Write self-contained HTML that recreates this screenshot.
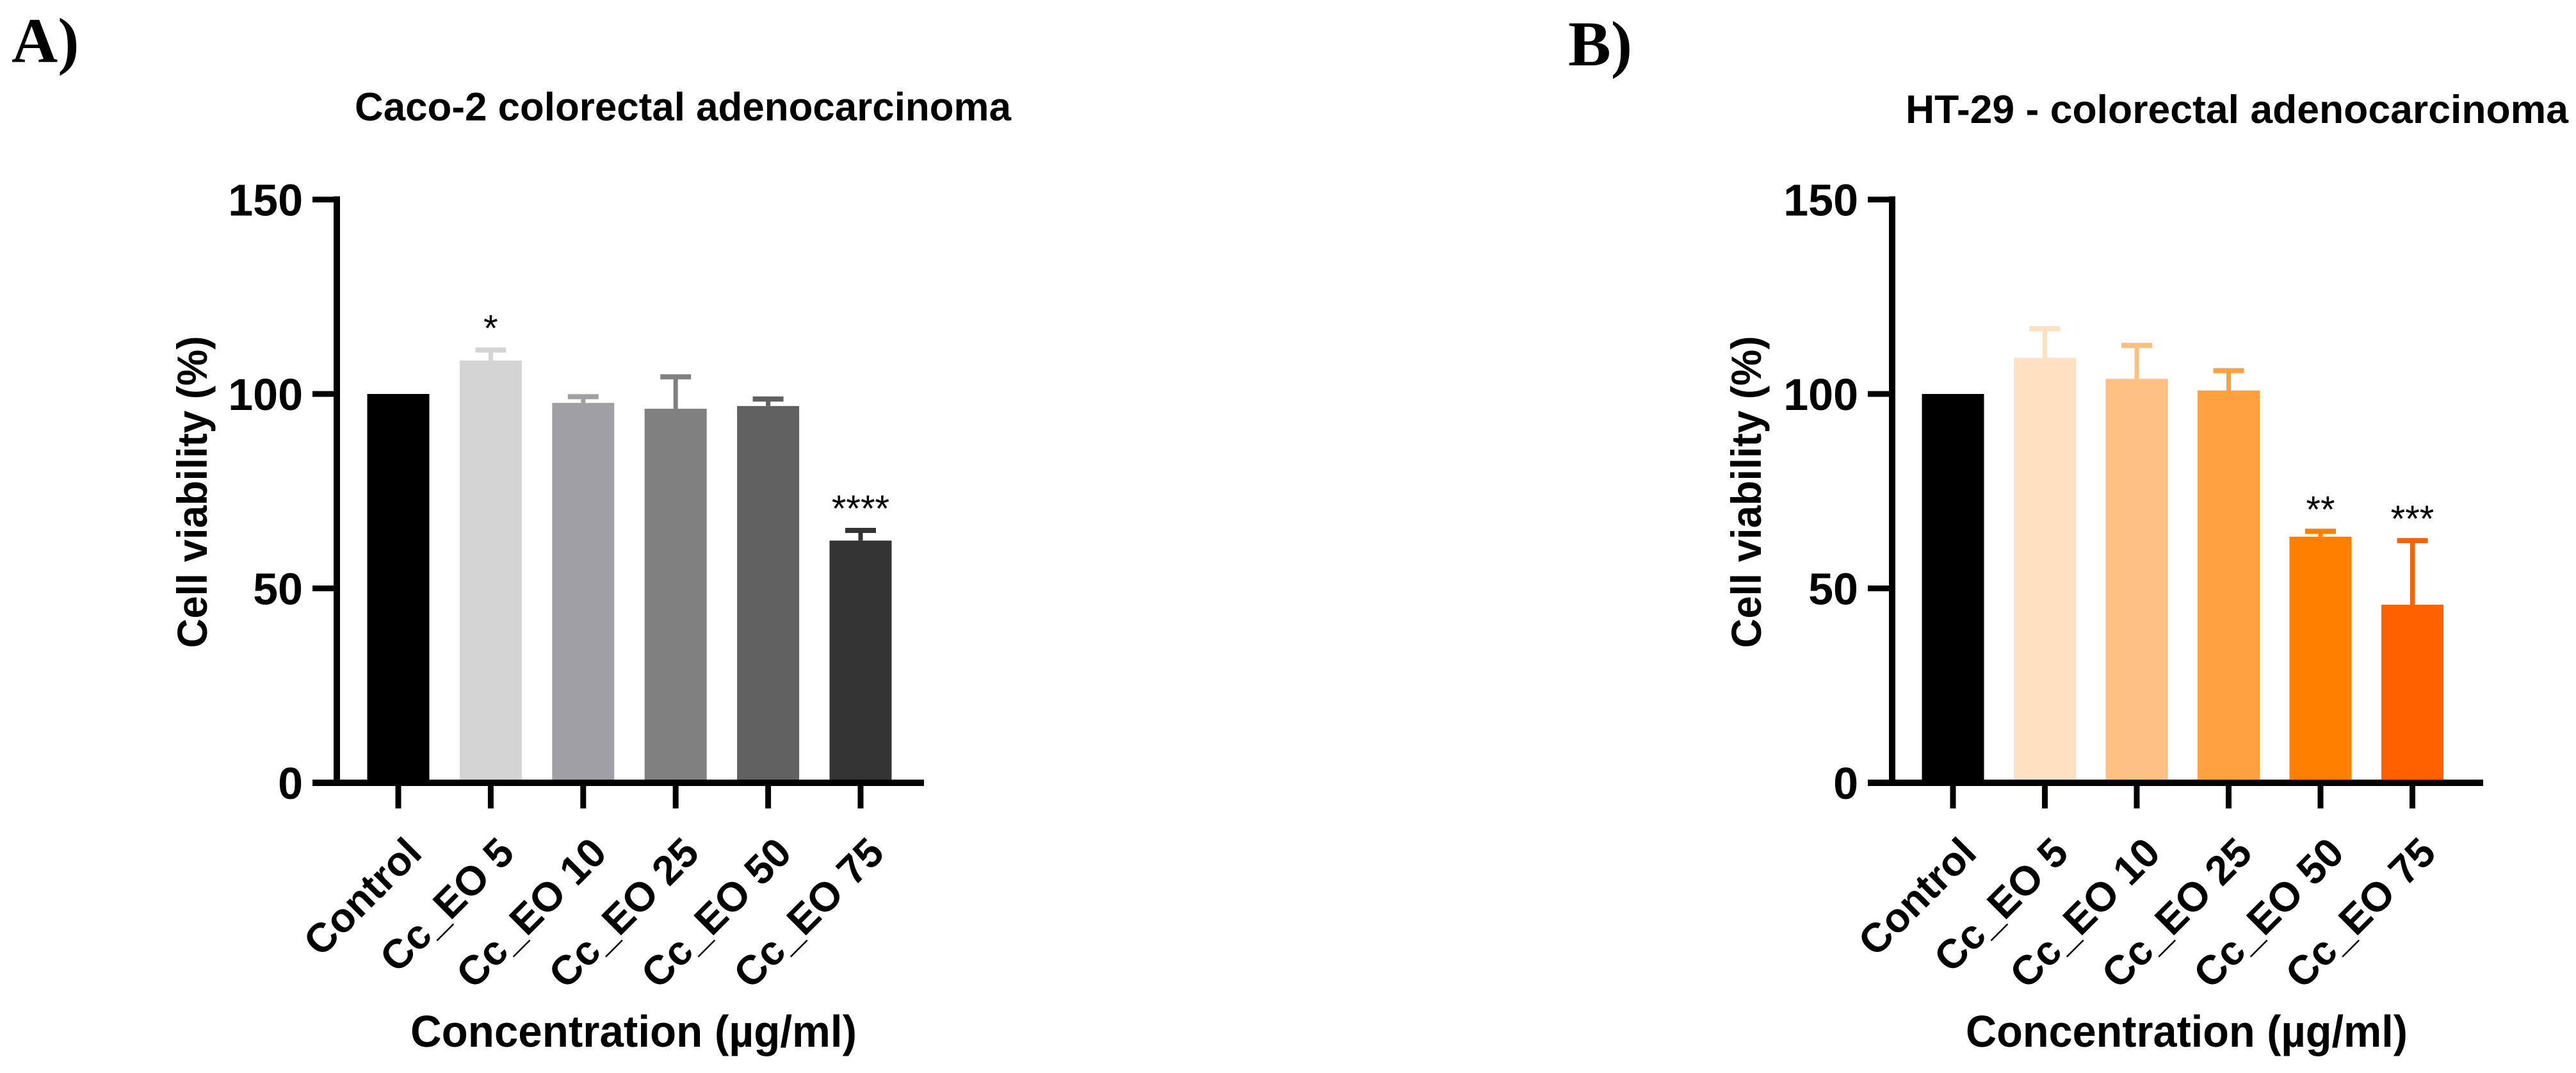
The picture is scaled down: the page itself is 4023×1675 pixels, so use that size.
<!DOCTYPE html>
<html><head><meta charset="utf-8"><style>
html,body{margin:0;padding:0;background:#fff;}
svg{display:block;}
text{font-family:"Liberation Sans",Arial,sans-serif;font-weight:bold;fill:#000;}
</style></head>
<body>
<svg id="fig" width="4023" height="1675" viewBox="0 0 4023 1675" xmlns="http://www.w3.org/2000/svg">
<text x="18" y="97" style="font-family:'Liberation Serif',serif;font-size:100px;">A)</text>
<text x="2449" y="102" style="font-family:'Liberation Serif',serif;font-size:100px;">B)</text>
</svg>
<script>
const categories = ["Control","Cc_EO 5","Cc_EO 10","Cc_EO 25","Cc_EO 50","Cc_EO 75"];
const yTicks = [0,50,100,150];
const valuesA = [100,108.6,97.7,96.2,96.9,62.3];
const errTopA = [100,111.3,99.3,104.4,98.7,64.9];
const starsA = ["","*","","","","****"];
const colorsA = ["#000000","#d4d4d4","#a0a0a4","#808080","#606060","#333333"];
const valuesB = [100,109.3,103.9,100.9,63.3,45.8];
const errTopB = [100,116.8,112.5,106,64.7,62.3];
const starsB = ["","","","","**","***"];
const colorsB = ["#000000","#ffe0c0","#ffc080","#ffa040","#ff8000","#ff6000"];

const NS = "http://www.w3.org/2000/svg";
const svg = document.getElementById('fig');
function mk(tag, attrs, parent){
  const e = document.createElementNS(NS, tag);
  for (const k in attrs) e.setAttribute(k, attrs[k]);
  (parent||svg).appendChild(e);
  return e;
}

function panel(cfg){
  const g = mk('g', {});
  
  
  const y0 = 1222, pxPer = 6.07;
  const yS = v => y0 - v * pxPer;
  const xS = i => cfg.firstTick + i * cfg.step;
  const bw = 97;
  cfg.values.forEach((v, i) => {
    const cx = xS(i);
    if (cfg.err[i] > v + 0.3) {
      const el = mk('line', {x1:cx, x2:cx, y1:yS(v), y2:yS(cfg.err[i]), stroke:cfg.colors[i], 'stroke-width':7}, g);
      
      
      const cap = mk('line', {x1:cx-24, x2:cx+24, y1:yS(cfg.err[i]), y2:yS(cfg.err[i]), stroke:cfg.colors[i], 'stroke-width':8}, g);
      
      
    }
    const r = mk('rect', {x:cx-bw/2, y:yS(v), width:bw, height:y0-yS(v), fill:cfg.colors[i]}, g);
    
    
    if (cfg.stars[i]) {
      const t = mk('text', {x:cx, y:yS(cfg.err[i]) - 14, 'text-anchor':'middle', style:'font-weight:normal;font-size:58px;'}, g);
      t.textContent = cfg.stars[i];
      
      
    }
    const tk = mk('line', {x1:cx, x2:cx, y1:y0, y2:1262, stroke:'#000', 'stroke-width':9}, g);
    
    
    const lx = cx + 40, ly = 1335;
    const lab = mk('text', {x:lx, y:ly, 'text-anchor':'end', transform:`rotate(-45 ${lx} ${ly})`, style:'font-size:64px;'}, g);
    lab.textContent = categories[i];
    
    
  });
  const ya = mk('line', {x1:cfg.axisX, x2:cfg.axisX, y1:yS(150)-5, y2:y0+5, stroke:'#000', 'stroke-width':10}, g);
  
  
  const xa = mk('line', {x1:cfg.axisX-38, x2:cfg.axisEnd, y1:y0, y2:y0, stroke:'#000', 'stroke-width':10}, g);
  
  
  yTicks.forEach(v => {
    const t = mk('line', {x1:cfg.axisX-38, x2:cfg.axisX, y1:yS(v), y2:yS(v), stroke:'#000', 'stroke-width':9}, g);
    
    
    const l = mk('text', {x:cfg.axisX-53, y:yS(v)+25, 'text-anchor':'end', style:'font-size:70px;'}, g);
    l.textContent = v;
    
    
  });
  const tt = mk('text', {x:cfg.titleX, y:cfg.titleY, textLength:cfg.titleW, lengthAdjust:'spacingAndGlyphs', style:'font-size:62px;'}, g);
  tt.textContent = cfg.title;
  
  
  const yt = mk('text', {x:0, y:0, 'text-anchor':'middle', textLength:487, lengthAdjust:'spacingAndGlyphs', transform:`translate(${cfg.yTitleX} 768) rotate(-90)`, style:'font-size:66px;'}, g);
  yt.textContent = 'Cell viability (%)';
  
  
  const xt = mk('text', {x:cfg.xTitleX, y:1634, textLength:cfg.xTitleW, lengthAdjust:'spacingAndGlyphs', style:'font-size:70px;'}, g);
  xt.textContent = 'Concentration (\u00b5g/ml)';
  
  
}

panel({name:'panel-a-chart', values:valuesA, err:errTopA, stars:starsA, colors:colorsA,
  firstTick:622, step:144.4, axisX:526, axisEnd:1443,
  title:'Caco-2 colorectal adenocarcinoma', titleX:554, titleY:188, titleW:1025,
  yTitleX:323, xTitleX:641, xTitleW:697});
panel({name:'panel-b-chart', values:valuesB, err:errTopB, stars:starsB, colors:colorsB,
  firstTick:3050, step:143.5, axisX:2955, axisEnd:3878,
  title:'HT-29 - colorectal adenocarcinoma', titleX:2976, titleY:192, titleW:1035,
  yTitleX:2750, xTitleX:3070, xTitleW:690});
</script>
</body></html>
